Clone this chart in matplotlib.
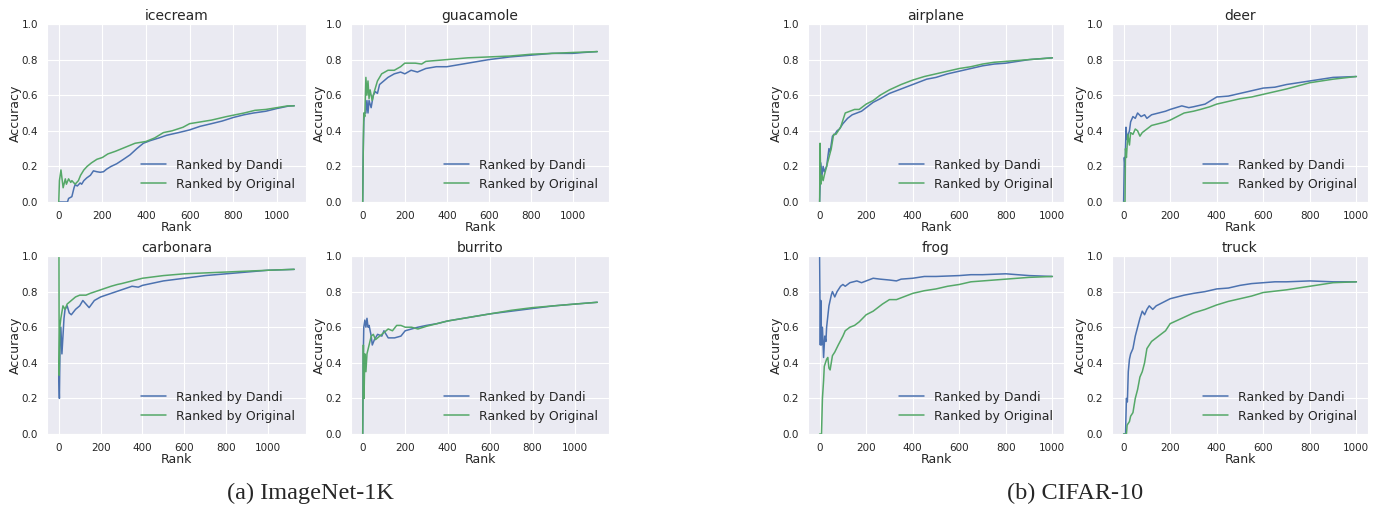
import matplotlib
matplotlib.use('Agg')
import matplotlib.pyplot as plt
import seaborn as sns

sns.set_style('darkgrid')
plt.rcParams['font.family'] = ['DejaVu Sans']

BLUE = '#4C72B0'
GREEN = '#55A868'

# ImageNet-1K classes
icecream_x_dandi = [0, 40, 45, 60, 70, 75, 85, 98, 105, 115, 128, 145, 159, 175, 190, 205, 220, 240, 266, 297, 327, 358, 388, 420, 460, 495, 550, 600, 648, 700, 750, 801, 850, 893, 950, 1000, 1050, 1080]
icecream_y_dandi = [0.0, 0.0, 0.02, 0.03, 0.08, 0.097, 0.09, 0.107, 0.10, 0.12, 0.135, 0.15, 0.175, 0.17, 0.167, 0.17, 0.185, 0.2, 0.215, 0.24, 0.265, 0.30, 0.33, 0.345, 0.36, 0.375, 0.39, 0.405, 0.425, 0.44, 0.455, 0.475, 0.49, 0.50, 0.51, 0.525, 0.538, 0.541]
icecream_x_orig = [0, 3, 10, 20, 30, 35, 45, 55, 60, 75, 90, 100, 115, 130, 150, 175, 200, 225, 260, 290, 320, 350, 400, 440, 480, 520, 570, 600, 650, 700, 770, 850, 900, 950, 1000, 1050, 1080]
icecream_y_orig = [0.0, 0.12, 0.18, 0.08, 0.13, 0.10, 0.13, 0.11, 0.12, 0.10, 0.12, 0.15, 0.18, 0.20, 0.22, 0.24, 0.25, 0.27, 0.285, 0.30, 0.315, 0.33, 0.34, 0.36, 0.39, 0.40, 0.42, 0.44, 0.45, 0.46, 0.48, 0.50, 0.515, 0.52, 0.53, 0.54, 0.54]

guacamole_x_dandi = [0, 2, 5, 8, 15, 20, 25, 30, 40, 50, 60, 70, 80, 100, 120, 150, 180, 200, 230, 260, 300, 350, 400, 500, 600, 700, 800, 900, 1000, 1050, 1115]
guacamole_y_dandi = [0.0, 0.25, 0.45, 0.50, 0.50, 0.57, 0.50, 0.57, 0.53, 0.60, 0.62, 0.61, 0.66, 0.68, 0.70, 0.72, 0.73, 0.72, 0.74, 0.73, 0.75, 0.76, 0.76, 0.78, 0.80, 0.815, 0.825, 0.835, 0.835, 0.84, 0.845]
guacamole_x_orig = [0, 3, 5, 10, 15, 20, 25, 30, 35, 45, 55, 70, 90, 120, 150, 180, 200, 250, 280, 300, 350, 400, 500, 600, 700, 800, 900, 1000, 1115]
guacamole_y_orig = [0.0, 0.35, 0.50, 0.48, 0.70, 0.60, 0.68, 0.58, 0.63, 0.57, 0.62, 0.68, 0.72, 0.74, 0.74, 0.76, 0.78, 0.78, 0.775, 0.79, 0.795, 0.80, 0.81, 0.815, 0.82, 0.83, 0.835, 0.84, 0.845]

carbonara_x_dandi = [0, 3, 6, 10, 15, 20, 25, 30, 40, 50, 60, 80, 100, 115, 130, 145, 170, 200, 250, 300, 350, 380, 400, 500, 600, 700, 800, 900, 1000, 1125]
carbonara_y_dandi = [0.33, 0.20, 0.50, 0.60, 0.45, 0.55, 0.65, 0.70, 0.72, 0.68, 0.67, 0.70, 0.72, 0.75, 0.73, 0.71, 0.75, 0.77, 0.79, 0.81, 0.83, 0.825, 0.835, 0.86, 0.875, 0.89, 0.90, 0.91, 0.92, 0.925]
carbonara_x_orig = [0, 1, 2, 5, 10, 20, 30, 40, 60, 80, 100, 130, 150, 200, 250, 280, 300, 350, 400, 500, 600, 700, 800, 900, 1000, 1125]
carbonara_y_orig = [1.0, 1.0, 0.33, 0.60, 0.65, 0.72, 0.70, 0.73, 0.75, 0.77, 0.78, 0.78, 0.79, 0.81, 0.83, 0.84, 0.845, 0.86, 0.875, 0.89, 0.90, 0.905, 0.91, 0.915, 0.92, 0.925]

burrito_x_dandi = [0, 2, 5, 10, 15, 20, 25, 30, 40, 45, 55, 70, 90, 100, 120, 150, 180, 200, 230, 260, 300, 350, 400, 500, 600, 700, 800, 900, 1000, 1105]
burrito_y_dandi = [0.0, 0.40, 0.60, 0.64, 0.60, 0.65, 0.60, 0.61, 0.55, 0.50, 0.53, 0.56, 0.55, 0.58, 0.54, 0.54, 0.55, 0.58, 0.59, 0.60, 0.61, 0.62, 0.635, 0.655, 0.675, 0.69, 0.705, 0.72, 0.73, 0.74]
burrito_x_orig = [0, 3, 6, 10, 15, 20, 30, 40, 50, 60, 80, 100, 120, 140, 160, 180, 200, 230, 260, 300, 350, 400, 500, 600, 700, 800, 900, 1000, 1105]
burrito_y_orig = [0.0, 0.50, 0.20, 0.45, 0.35, 0.45, 0.50, 0.55, 0.56, 0.53, 0.55, 0.57, 0.59, 0.58, 0.61, 0.61, 0.60, 0.60, 0.59, 0.605, 0.62, 0.635, 0.655, 0.675, 0.695, 0.71, 0.72, 0.73, 0.74]

# CIFAR-10 classes
airplane_x_dandi = [0, 5, 10, 15, 20, 30, 40, 45, 55, 65, 75, 85, 100, 120, 140, 160, 180, 200, 230, 260, 300, 340, 380, 420, 460, 500, 550, 600, 650, 700, 750, 800, 850, 900, 1000]
airplane_y_dandi = [0.0, 0.22, 0.15, 0.20, 0.17, 0.20, 0.30, 0.28, 0.37, 0.38, 0.40, 0.41, 0.44, 0.47, 0.49, 0.50, 0.51, 0.53, 0.56, 0.58, 0.61, 0.63, 0.65, 0.67, 0.69, 0.70, 0.72, 0.735, 0.75, 0.765, 0.775, 0.78, 0.79, 0.80, 0.81]
airplane_x_orig = [0, 2, 5, 10, 15, 20, 30, 40, 50, 60, 70, 80, 90, 100, 110, 130, 150, 170, 200, 230, 260, 300, 350, 400, 450, 500, 550, 600, 650, 700, 750, 800, 850, 900, 1000]
airplane_y_orig = [0.0, 0.33, 0.10, 0.15, 0.12, 0.15, 0.20, 0.25, 0.30, 0.38, 0.38, 0.40, 0.42, 0.46, 0.50, 0.51, 0.52, 0.52, 0.55, 0.57, 0.60, 0.63, 0.66, 0.685, 0.705, 0.72, 0.735, 0.75, 0.76, 0.775, 0.785, 0.79, 0.795, 0.80, 0.81]

deer_x_dandi = [0, 3, 6, 10, 15, 20, 25, 30, 40, 50, 60, 75, 90, 100, 120, 150, 180, 200, 250, 280, 300, 350, 400, 450, 500, 550, 600, 650, 700, 800, 900, 1000]
deer_y_dandi = [0.0, 0.25, 0.20, 0.42, 0.35, 0.38, 0.40, 0.45, 0.48, 0.47, 0.50, 0.48, 0.49, 0.47, 0.49, 0.50, 0.51, 0.52, 0.54, 0.53, 0.535, 0.55, 0.59, 0.595, 0.61, 0.625, 0.64, 0.645, 0.66, 0.68, 0.70, 0.705]
deer_x_orig = [0, 6, 8, 12, 18, 25, 30, 40, 50, 60, 70, 80, 100, 120, 150, 180, 200, 230, 260, 300, 330, 370, 400, 450, 500, 550, 600, 700, 800, 900, 1000]
deer_y_orig = [0.0, 0.0, 0.30, 0.25, 0.38, 0.32, 0.39, 0.38, 0.41, 0.40, 0.37, 0.39, 0.41, 0.43, 0.44, 0.45, 0.46, 0.48, 0.50, 0.51, 0.52, 0.535, 0.55, 0.565, 0.58, 0.59, 0.605, 0.635, 0.67, 0.69, 0.705]

frog_x_dandi = [0, 3, 5, 8, 12, 17, 22, 27, 30, 40, 50, 55, 65, 75, 90, 100, 110, 130, 160, 180, 200, 230, 260, 300, 330, 350, 400, 450, 500, 600, 650, 700, 800, 850, 900, 1000]
frog_y_dandi = [1.0, 0.50, 0.75, 0.50, 0.60, 0.43, 0.55, 0.52, 0.60, 0.72, 0.78, 0.80, 0.77, 0.80, 0.83, 0.84, 0.83, 0.85, 0.86, 0.85, 0.86, 0.875, 0.87, 0.865, 0.86, 0.87, 0.875, 0.885, 0.885, 0.89, 0.895, 0.895, 0.90, 0.895, 0.89, 0.885]
frog_x_orig = [0, 8, 12, 17, 20, 30, 35, 40, 45, 55, 65, 80, 100, 110, 130, 150, 170, 200, 230, 270, 300, 330, 380, 400, 450, 500, 550, 600, 650, 700, 800, 900, 1000]
frog_y_orig = [0.0, 0.0, 0.20, 0.30, 0.38, 0.42, 0.43, 0.37, 0.36, 0.44, 0.46, 0.50, 0.55, 0.58, 0.60, 0.61, 0.63, 0.67, 0.69, 0.73, 0.755, 0.755, 0.78, 0.79, 0.805, 0.815, 0.83, 0.84, 0.855, 0.86, 0.87, 0.88, 0.885]

truck_x_dandi = [0, 8, 12, 16, 20, 25, 30, 40, 50, 60, 70, 80, 90, 100, 110, 125, 140, 170, 200, 230, 260, 300, 350, 400, 450, 500, 550, 600, 650, 700, 800, 900, 1000]
truck_y_dandi = [0.0, 0.0, 0.20, 0.18, 0.35, 0.42, 0.45, 0.48, 0.55, 0.60, 0.65, 0.69, 0.67, 0.70, 0.72, 0.70, 0.72, 0.74, 0.76, 0.77, 0.78, 0.79, 0.80, 0.815, 0.82, 0.835, 0.845, 0.85, 0.855, 0.855, 0.86, 0.855, 0.855]
truck_x_orig = [0, 12, 15, 25, 30, 40, 50, 60, 70, 80, 90, 100, 120, 150, 180, 200, 250, 300, 350, 400, 450, 500, 550, 600, 700, 800, 900, 1000]
truck_y_orig = [0.0, 0.0, 0.05, 0.07, 0.10, 0.12, 0.20, 0.25, 0.32, 0.35, 0.40, 0.48, 0.52, 0.55, 0.58, 0.62, 0.65, 0.68, 0.70, 0.725, 0.745, 0.76, 0.775, 0.795, 0.81, 0.83, 0.85, 0.855]

W, H = 1387, 512
fig = plt.figure(figsize=(W / 100, H / 100), dpi=100)

def panel(l, t, r, b, title, xd, yd, xo, yo):
    ax = fig.add_axes([l / W, 1 - b / H, (r - l) / W, (b - t) / H])
    ax.plot(xd, yd, color=BLUE, lw=1.1, label='Ranked by Dandi')
    ax.plot(xo, yo, color=GREEN, lw=1.1, label='Ranked by Original')
    ax.set_ylim(0, 1)
    ax.set_yticks([0, 0.2, 0.4, 0.6, 0.8, 1.0])
    ax.set_title(title, fontsize=10, pad=3)
    ax.set_xlabel('Rank', fontsize=9, labelpad=0)
    ax.set_ylabel('Accuracy', fontsize=9, labelpad=-0.5)
    ax.tick_params(labelsize=7.5, pad=3)
    ax.legend(loc='lower right', fontsize=9, frameon=False)
    return ax

# (a) ImageNet-1K
panel(47, 24, 306, 202, 'icecream', icecream_x_dandi, icecream_y_dandi, icecream_x_orig, icecream_y_orig)
panel(351, 24, 609, 202, 'guacamole', guacamole_x_dandi, guacamole_y_dandi, guacamole_x_orig, guacamole_y_orig)
panel(47, 256, 306, 434, 'carbonara', carbonara_x_dandi, carbonara_y_dandi, carbonara_x_orig, carbonara_y_orig)
panel(351, 256, 609, 434, 'burrito', burrito_x_dandi, burrito_y_dandi, burrito_x_orig, burrito_y_orig)

# (b) CIFAR-10
panel(808, 24, 1064, 202, 'airplane', airplane_x_dandi, airplane_y_dandi, airplane_x_orig, airplane_y_orig)
panel(1112, 24, 1368, 202, 'deer', deer_x_dandi, deer_y_dandi, deer_x_orig, deer_y_orig)
panel(808, 256, 1064, 434, 'frog', frog_x_dandi, frog_y_dandi, frog_x_orig, frog_y_orig)
panel(1112, 256, 1368, 434, 'truck', truck_x_dandi, truck_y_dandi, truck_x_orig, truck_y_orig)

fig.text(310 / W, 1 - 493 / H, '(a) ImageNet-1K', ha='center', va='center',
         fontsize=17.5, family='Liberation Serif')
fig.text(1075 / W, 1 - 493 / H, '(b) CIFAR-10', ha='center', va='center',
         fontsize=17.5, family='Liberation Serif')

fig.savefig('out.png', dpi=100)
